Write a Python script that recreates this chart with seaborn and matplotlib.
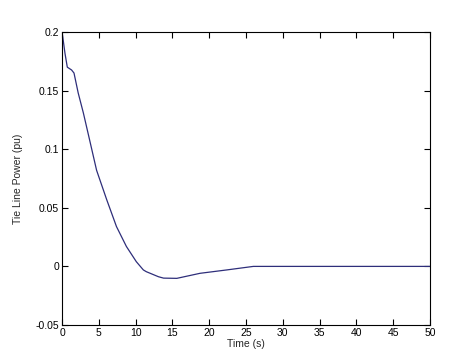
import matplotlib
matplotlib.use("Agg")
import matplotlib.pyplot as plt
import seaborn as sns
import pandas as pd

time_s = [0.0, 0.1, 0.4, 0.72, 1.3, 1.63, 2.2, 2.9, 3.6, 4.7, 6.07, 7.4, 8.75,
          10.1, 11.05, 11.45, 13.1, 13.8, 15.6, 18.75, 22.4, 26.0, 30.0, 40.0, 50.0]
tie_power = [0.2, 0.196, 0.182, 0.170, 0.1676, 0.165, 0.148, 0.131, 0.112, 0.082,
             0.057, 0.034, 0.017, 0.004, -0.003, -0.0045, -0.0088, -0.0100,
             -0.0102, -0.0059, -0.003, 0.0, 0.0, 0.0, 0.0]
x_ticks = [0, 5, 10, 15, 20, 25, 30, 35, 40, 45, 50]
y_ticks = [-0.05, 0, 0.05, 0.1, 0.15, 0.2]
y_labels = ["-0.05", "0", "0.05", "0.1", "0.15", "0.2"]

sns.set_style("white")
plt.rcParams['font.family'] = ['Liberation Sans', 'DejaVu Sans']

df = pd.DataFrame({"t": time_s, "p": tie_power})
fig = plt.figure(figsize=(4.65, 3.58), dpi=100)
ax = fig.add_axes([62/465, 1 - 325/358, 368/465, 293/358])
sns.lineplot(data=df, x="t", y="p", ax=ax, color="#2e2e7a", linewidth=0.9)
ax.set_xlim(0, 50)
ax.set_ylim(-0.05, 0.2)
ax.set_xticks(x_ticks)
ax.set_xticklabels([str(v) for v in x_ticks])
ax.set_yticks(y_ticks)
ax.set_yticklabels(y_labels)
ax.tick_params(direction="in", length=4.5, width=0.8, labelsize=7.5, colors="black",
               top=True, right=True, bottom=True, left=True, pad=2)
for s in ax.spines.values():
    s.set_color("black")
    s.set_linewidth(0.8)
ax.set_xlabel("Time (s)", fontsize=7.5, labelpad=1)
ax.set_ylabel("Tie Line Power (pu)", fontsize=7.5, labelpad=9)
fig.savefig("out.png", dpi=100)
